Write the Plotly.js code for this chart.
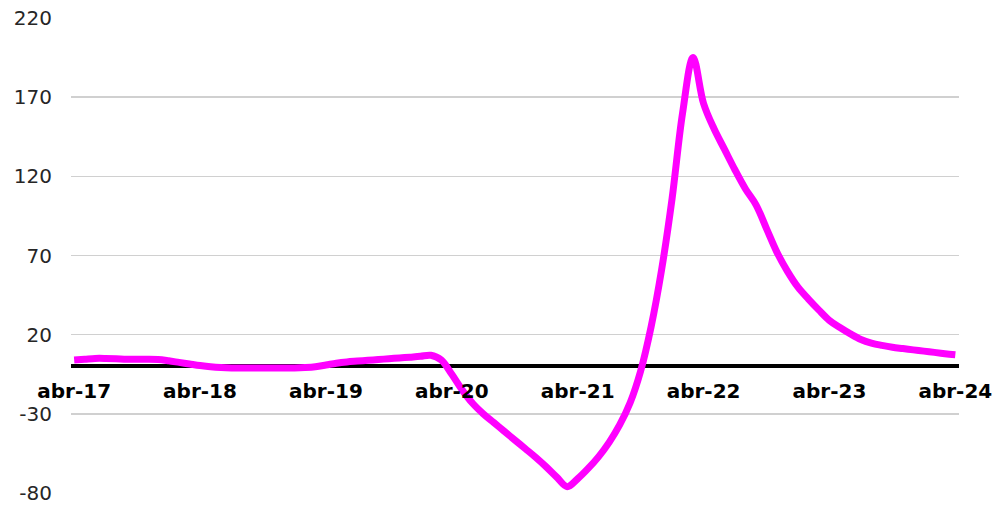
<!DOCTYPE html>
<html>
<head>
<meta charset="utf-8">
<script src="https://cdn.plot.ly/plotly-3.0.1.min.js"></script>
<style>html,body{margin:0;padding:0;background:#fff;}#chart{width:1003px;height:511px;}</style>
</head>
<body>
<div id="chart"></div>
<script>
// Month names (Spanish) and years for the category axis
const monthNames = ["ene","feb","mar","abr","may","jun","jul","ago","sep","oct","nov","dic"];
// Categories: monthly, abr-17 .. abr-24
const categories = [];
for (let y = 17; y <= 24; y++) {
  for (let m = 0; m < 12; m++) {
    if ((y === 17 && m < 3) || (y === 24 && m > 3)) continue;
    categories.push(monthNames[m] + "-" + y);
  }
}
// Series values (Apr 2017 .. Apr 2024)
const values = [
  4, 4.5, 5, 5, 4.8, 4.5, 4.5, 4.5, 4.3, 3.5, 2.5, 1.5,            // abr-17 .. mar-18
  0.5, -0.3, -0.8, -1, -1, -1, -1, -1, -1, -1, -0.8, -0.3,          // abr-18 .. mar-19
  0.8, 2, 2.8, 3.3, 3.8, 4.3, 4.8, 5.3, 5.8, 6.3, 7, 4,             // abr-19 .. mar-20
  -5, -15, -23.5, -30, -35.5, -41, -46.5, -52, -57.5, -63.5, -70, -76, // abr-20 .. mar-21
  -71, -64.5, -57, -48, -37, -23, -3, 25, 61, 106, 160, 195,        // abr-21 .. mar-22
  166, 150, 137, 124, 112, 102, 87, 72, 60, 50, 42.5, 35.5,         // abr-22 .. mar-23
  29, 24.5, 20.5, 17, 14.7, 13.2, 12, 11.2, 10.4, 9.6, 8.8, 8,      // abr-23 .. mar-24
  7.3                                                               // abr-24
];
// Tick labels
const xTickLabels = ["abr-17","abr-18","abr-19","abr-20","abr-21","abr-22","abr-23","abr-24"];
const yTickValues = [-80, -30, 20, 70, 120, 170, 220];

const trace = {
  x: categories,
  y: values,
  type: "scatter",
  mode: "lines",
  line: {color: "#ff00ff", width: 7, shape: "spline", smoothing: 1},
  hoverinfo: "skip"
};

const yMin = -80, yMax = 220;
const layout = {
  width: 1003,
  height: 511,
  margin: {l: 71, r: 44, t: 18, b: 18},
  paper_bgcolor: "#ffffff",
  plot_bgcolor: "#ffffff",
  showlegend: false,
  font: {family: "DejaVu Sans, Verdana, sans-serif", color: "#262626"},
  xaxis: {
    type: "category",
    range: [-0.3, 84.35],
    tickvals: xTickLabels,
    ticktext: xTickLabels,
    tickangle: 0,
    showgrid: false,
    showline: false,
    zeroline: false,
    ticks: "",
    anchor: "free",
    position: (0 - yMin) / (yMax - yMin),
    ticklabelstandoff: 11,
    tickfont: {family: "DejaVu Sans, Verdana, sans-serif", size: 20, color: "#000000", weight: "bold"}
  },
  yaxis: {
    range: [yMin, yMax],
    tickvals: yTickValues,
    ticktext: yTickValues.map(String),
    showgrid: true,
    gridcolor: "#d0d0d0",
    gridwidth: 1.5,
    zeroline: true,
    zerolinecolor: "#000000",
    zerolinewidth: 4,
    showline: false,
    ticks: "",
    ticklabelstandoff: 18,
    tickfont: {family: "DejaVu Sans, Verdana, sans-serif", size: 20, color: "#262626"}
  }
};

Plotly.newPlot("chart", [trace], layout, {displayModeBar: false, staticPlot: true});
</script>
</body>
</html>
